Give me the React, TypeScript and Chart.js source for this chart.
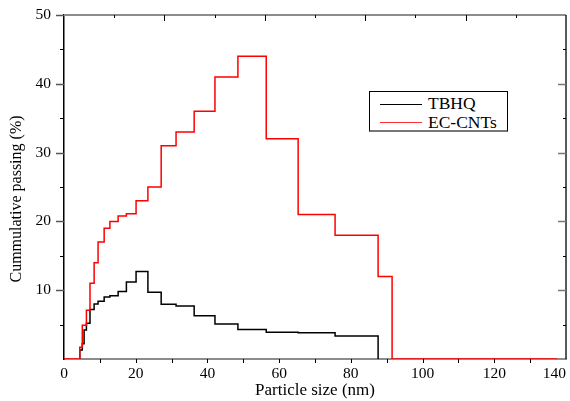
import React, { useEffect, useRef } from 'react';
import { Chart, registerables } from 'chart.js';

Chart.register(...registerables);

// Particle size (nm) where each step starts, and cumulative passing (%) from there on
const tbhqSize = [4.4, 4.4, 5.1, 5.6, 6.25, 7.25, 8.4, 9.5, 11.2, 12.8, 15.1, 17.4, 20.1, 23.4, 27.1, 31.25, 36.3, 42.1, 48.5, 56.4, 65.3, 75.6, 87.6];
const tbhqPassing = [0, 1.3, 2.2, 4.2, 5.2, 7.2, 8.0, 8.4, 9.0, 9.2, 9.8, 11.2, 12.7, 9.7, 7.95, 7.7, 6.3, 5.1, 4.3, 3.9, 3.8, 3.35, 0];

const ecSize = [0, 4.4, 5.1, 6.25, 7.25, 8.4, 9.5, 11.2, 12.8, 15.1, 17.4, 20.1, 23.4, 27.1, 31.25, 36.3, 42.1, 48.5, 56.4, 65.3, 75.6, 87.6, 91.5, 137.5];
const ecPassing = [0, 1.7, 4.9, 7.1, 11, 14, 17, 19, 20, 20.8, 21.1, 23, 25, 31, 33, 36, 41, 44, 32, 21, 18, 12, 0, 0];

const seriesNames = ['TBHQ', 'EC-CNTs'];
const xMin = 0, xMax = 140, xStep = 10, xLabelStep = 20;
const yMin = 0, yMax = 50, yStep = 5, yLabelStep = 10;
const topTickStep = 14;

const FONT = 'Liberation Serif';

const axisDecor = {
  id: 'axisDecor',
  afterDraw(chart: any) {
    const { ctx, chartArea } = chart;
    const { left, right, top, bottom } = chartArea;
    const xs = chart.scales.x;
    const ys = chart.scales.y;
    ctx.save();
    const seg = (x1: number, y1: number, x2: number, y2: number, color: string, w: number) => {
      ctx.beginPath();
      ctx.strokeStyle = color;
      ctx.lineWidth = w;
      ctx.moveTo(x1, y1);
      ctx.lineTo(x2, y2);
      ctx.stroke();
    };
    // top frame line + inward ticks
    seg(left, top, right, top, '#8c8c8c', 2);
    for (let v = topTickStep; v < xMax; v += topTickStep) {
      const px = Math.round(xs.getPixelForValue(v)) + 0.5;
      const major = Math.round(v / topTickStep) % 2 === 0;
      seg(px, top, px, top + (major ? 6 : 3), '#000', 1);
    }
    // right frame line + inward ticks
    seg(right, top, right, bottom, '#222', 1.5);
    ys.ticks.forEach((t: any) => {
      if (t.value <= yMin || t.value >= yMax) return;
      const py = Math.round(ys.getPixelForValue(t.value)) + 0.5;
      const major = t.value % yLabelStep === 0;
      seg(right - (major ? 8 : 3), py, right, py, major ? '#777' : '#000', major ? 1.5 : 1);
    });
    // left outward ticks
    ys.ticks.forEach((t: any) => {
      if (t.value <= yMin) return;
      const py = Math.round(ys.getPixelForValue(t.value)) + 0.5;
      const major = t.value % yLabelStep === 0;
      seg(left - (major ? 8 : 4), py, left, py, major ? '#555' : '#000', major ? 1.5 : 1);
    });
    // bottom outward ticks
    xs.ticks.forEach((t: any) => {
      if (t.value <= xMin || t.value >= xMax) return;
      const px = Math.round(xs.getPixelForValue(t.value)) + 0.5;
      seg(px, bottom, px, bottom + 4, '#000', 1);
    });
    ctx.restore();
  },
};

export default function App() {
  const ref = useRef<HTMLCanvasElement>(null);

  useEffect(() => {
    const canvas = ref.current;
    if (!canvas) return;
    const chart = new Chart(canvas, {
      type: 'line',
      data: {
        datasets: [
          {
            label: seriesNames[0],
            data: tbhqSize.map((x, i) => ({ x, y: tbhqPassing[i] })),
            borderColor: '#000000',
            borderWidth: 1.5,
            pointRadius: 0,
            stepped: 'before',
            fill: false,
            order: 1,
          },
          {
            label: seriesNames[1],
            data: ecSize.map((x, i) => ({ x, y: ecPassing[i] })),
            borderColor: '#ff0000',
            borderWidth: 1.5,
            pointRadius: 0,
            stepped: 'before',
            fill: false,
            order: 0,
          },
        ],
      },
      options: {
        animation: false,
        responsive: false,
        maintainAspectRatio: false,
        layout: { padding: { left: 0, right: 4, top: 15, bottom: 0 } },
        plugins: {
          legend: { display: false },
          tooltip: { enabled: false },
        },
        scales: {
          x: {
            type: 'linear',
            position: 'bottom',
            min: xMin,
            max: xMax,
            ticks: {
              stepSize: xStep,
              autoSkip: false,
              maxRotation: 0,
              padding: 2,
              color: '#000',
              font: { family: FONT, size: 15.5 },
              callback: (v: any) => {
                if (v % xLabelStep !== 0) return '';
                return v === xMax ? String(v) + '      ' : String(v);
              },
            },
            grid: { drawOnChartArea: false, drawTicks: true, tickLength: 4, tickColor: 'rgba(0,0,0,0)' },
            border: { display: true, color: '#8c8c8c', width: 2 },
            title: {
              display: true,
              text: 'Particle size (nm)',
              color: '#000',
              font: { family: FONT, size: 17 },
              padding: { top: 0, bottom: 0 },
            },
            afterFit: (s: any) => {
              s.height = 42;
              s.paddingRight = 0;
            },
          },
          y: {
            type: 'linear',
            position: 'left',
            min: yMin,
            max: yMax,
            ticks: {
              stepSize: yStep,
              autoSkip: false,
              padding: 5,
              color: '#000',
              font: { family: FONT, size: 15.5 },
              callback: (v: any) => (v !== yMin && v % yLabelStep === 0 ? String(v) : ''),
            },
            grid: { drawOnChartArea: false, drawTicks: true, tickLength: 8, tickColor: 'rgba(0,0,0,0)' },
            border: { display: true, color: '#000', width: 1.5 },
            title: {
              display: true,
              text: 'Cummulative passing (%)      ',
              color: '#000',
              font: { family: FONT, size: 16 },
              padding: { top: 7, bottom: 0 },
            },
            afterFit: (s: any) => {
              s.width = 64;
            },
          },
        },
      },
      plugins: [axisDecor],
    });
    return () => chart.destroy();
  }, []);

  const txt: React.CSSProperties = {
    position: 'absolute',
    fontFamily: FONT,
    fontSize: 17.5,
    lineHeight: '17px',
    color: '#000',
    whiteSpace: 'nowrap',
  };

  return (
    <div style={{ position: 'absolute', left: 0, top: 0, width: 570, height: 401, background: '#fff', overflow: 'hidden' }}>
      <canvas ref={ref} width={570} height={401} style={{ display: 'block', width: 570, height: 401 }} />
      <div
        style={{
          position: 'absolute',
          left: 369,
          top: 91,
          width: 139,
          height: 41,
          boxSizing: 'border-box',
          border: '1.5px solid #000',
          borderBottom: '2px solid #777',
          background: '#fff',
        }}
      />
      <div style={{ position: 'absolute', left: 380, top: 103.5, width: 42, height: 1, background: '#000' }} />
      <div style={{ position: 'absolute', left: 380, top: 121.8, width: 42, height: 1, background: '#ff3030' }} />
      <div style={{ ...txt, left: 428, top: 95 }}>{seriesNames[0]}</div>
      <div style={{ ...txt, left: 428, top: 114 }}>{seriesNames[1]}</div>
    </div>
  );
}
